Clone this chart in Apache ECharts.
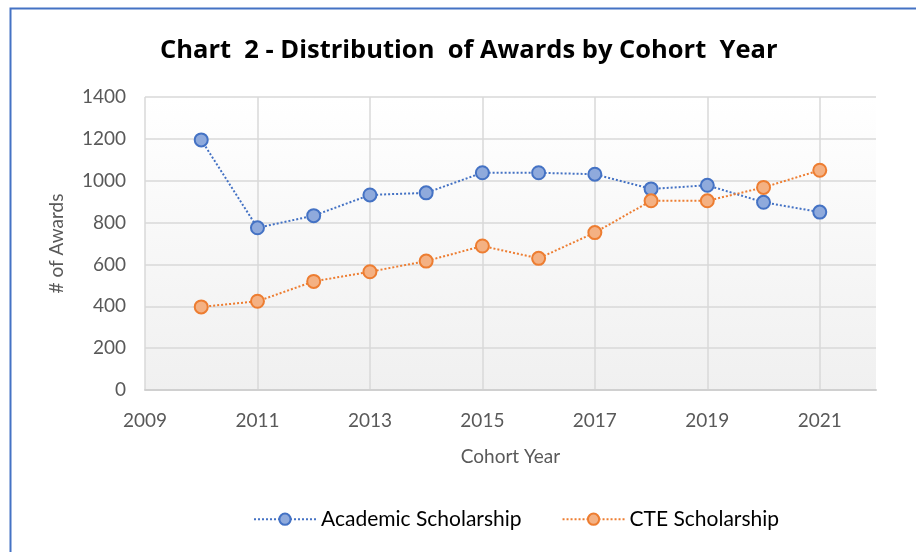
<!DOCTYPE html>
<html>
<head>
    <title>Chart 2</title>
    <style>
        body { margin: 0; padding: 0; background: #fff; }
        #chart { width: 916px; height: 552px; }
    </style>
</head>
<body>
    <div id="chart"></div>
    <script src="https://cdn.jsdelivr.net/npm/echarts@6/dist/echarts.min.js"></script>
    <script>
        // data
        const years = [2010, 2011, 2012, 2013, 2014, 2015, 2016, 2017, 2018, 2019, 2020, 2021];
        const academic = [1195, 775, 833, 932, 942, 1038, 1038, 1031, 961, 978, 897, 850];
        const cte = [397, 424, 519, 565, 616, 688, 629, 752, 904, 904, 968, 1050];
        const seriesNames = ['Academic Scholarship', 'CTE Scholarship'];

        const greyText = '#595959';
        const gridGrey = '#d9d9d9';
        const font = 'Lato, "Noto Sans", sans-serif';

        function pairs(vals) {
            return years.map((y, i) => [y, vals[i]]);
        }

        const chart = echarts.init(document.getElementById('chart'));
        chart.setOption({
            animation: false,
            textStyle: { fontFamily: font },
            graphic: [{
                type: 'rect',
                left: 8, top: 6,
                shape: { width: 2000, height: 2000 },
                style: { fill: 'none', stroke: '#4472c4', lineWidth: 2 },
                silent: true
            }],
            title: {
                text: 'Chart  2 - Distribution  of Awards by Cohort  Year',
                left: 155,
                top: 22,
                textStyle: { fontFamily: '"Open Sans", sans-serif', fontWeight: 'bold', fontSize: 25.5, color: '#000' }
            },
            legend: {
                bottom: 12,
                left: 248,
                itemWidth: 62,
                itemHeight: 14,
                itemGap: 40,
                textStyle: { fontSize: 21, color: '#000', fontFamily: font },
                data: seriesNames
            },
            grid: {
                left: 145, right: 40, top: 97, bottom: 162,
                show: true,
                borderWidth: 0,
                backgroundColor: new echarts.graphic.LinearGradient(0, 0, 0, 1, [
                    { offset: 0, color: '#ffffff' },
                    { offset: 1, color: '#f0f0f0' }
                ])
            },
            xAxis: {
                type: 'value',
                min: 2009, max: 2022, interval: 2,
                name: 'Cohort Year',
                nameLocation: 'middle',
                nameGap: 53,
                nameTextStyle: { fontSize: 19, color: greyText },
                axisLine: { show: true, lineStyle: { color: '#d0d0d0', width: 2 } },
                axisTick: { show: false },
                axisLabel: { fontSize: 19, color: greyText, margin: 17, showMaxLabel: false, formatter: v => String(v) },
                splitLine: { show: true, showMaxLine: false, lineStyle: { color: gridGrey, width: 1.5 } }
            },
            yAxis: {
                type: 'value',
                min: 0, max: 1400, interval: 200,
                name: '# of Awards',
                nameLocation: 'middle',
                nameGap: 74,
                nameTextStyle: { fontSize: 19, color: greyText },
                axisLine: { show: false },
                axisTick: { show: false },
                axisLabel: { fontSize: 19, color: greyText, margin: 19, formatter: v => String(v) },
                splitLine: { lineStyle: { color: gridGrey, width: 1.5 } }
            },
            series: [{
                name: seriesNames[0],
                type: 'line',
                data: pairs(academic),
                symbol: 'circle',
                symbolSize: 13,
                lineStyle: { type: 'dotted', width: 2, color: '#4472c4' },
                itemStyle: { color: '#8faadc', borderColor: '#4472c4', borderWidth: 2 }
            }, {
                name: seriesNames[1],
                type: 'line',
                data: pairs(cte),
                symbol: 'circle',
                symbolSize: 13,
                lineStyle: { type: 'dotted', width: 2, color: '#ed7d31' },
                itemStyle: { color: '#f4b183', borderColor: '#ed7d31', borderWidth: 2 }
            }]
        });
    </script>
</body>
</html>
